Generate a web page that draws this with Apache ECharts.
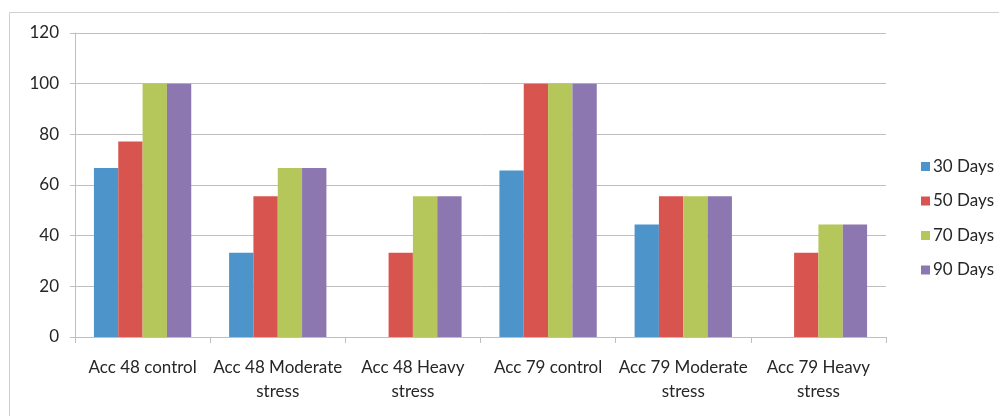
<!DOCTYPE html>
<html>
<head>
<meta charset="utf-8">
<script src="https://cdn.jsdelivr.net/npm/echarts@6/dist/echarts.min.js"></script>
<style>
  html, body { margin: 0; padding: 0; background: #fff; }
  #chart { width: 999px; height: 416px; }
</style>
</head>
<body>
<div id="chart"></div>
<script>
// Germination / survival percentages per accession and stress level
const categories = [
  'Acc 48 control',
  'Acc 48 Moderate\nstress',
  'Acc 48 Heavy\nstress',
  'Acc 79 control',
  'Acc 79 Moderate\nstress',
  'Acc 79 Heavy\nstress'
];
const days30 = [66.7, 33.3, 0, 65.7, 44.4, 0];
const days50 = [77.2, 55.6, 33.3, 100, 55.6, 33.3];
const days70 = [100, 66.7, 55.6, 100, 55.6, 44.4];
const days90 = [100, 66.7, 55.6, 100, 55.6, 44.4];
const seriesNames = ['30 Days', '50 Days', '70 Days', '90 Days'];
const yTicks = [0, 20, 40, 60, 80, 100, 120];

const colors = ['#4D94CB', '#D8554F', '#B5C65A', '#8C77B1'];
const gridColor = '#BFBFBF';
const textColor = '#262626';
const fontFamily = 'Lato, "Open Sans", sans-serif';

const chart = echarts.init(document.getElementById('chart'), null, { renderer: 'canvas' });

const seriesData = [days30, days50, days70, days90];

chart.setOption({
  animation: false,
  backgroundColor: '#fff',
  color: colors,
  graphic: [{
    type: 'rect',
    shape: { x: 9.5, y: 12.5, width: 1200, height: 600 },
    style: { fill: 'none', stroke: '#D0D0D0', lineWidth: 1 },
    silent: true,
    z: -1
  }],
  grid: { left: 75, right: 113, top: 33, bottom: 79, containLabel: false },
  legend: {
    orient: 'vertical',
    left: 916,
    top: 153,
    itemWidth: 9,
    itemHeight: 9,
    itemGap: 17.5,
    icon: 'rect',
    textStyle: { fontFamily, fontSize: 17, lineHeight: 17, color: textColor, padding: [0, 0, 0, -2] },
    data: seriesNames
  },
  xAxis: {
    type: 'category',
    data: categories,
    axisLine: { show: true, lineStyle: { color: gridColor, width: 1 } },
    axisTick: { show: true, length: 6, alignWithLabel: false, lineStyle: { color: gridColor } },
    axisLabel: {
      interval: 0,
      margin: 19,
      fontFamily,
      fontSize: 17,
      lineHeight: 24,
      color: textColor,
      align: 'center'
    },
    splitLine: { show: false }
  },
  yAxis: {
    type: 'value',
    min: 0,
    max: 120,
    interval: 20,
    axisLine: { show: true, lineStyle: { color: gridColor, width: 1 } },
    axisTick: { show: true, length: 5, lineStyle: { color: gridColor } },
    axisLabel: {
      margin: 16,
      fontFamily,
      fontSize: 17,
      color: textColor,
      formatter: v => (yTicks.includes(v) ? String(v) : '')
    },
    splitLine: { show: true, lineStyle: { color: gridColor, width: 1 } }
  },
  series: seriesNames.map((name, i) => ({
    name,
    type: 'bar',
    data: seriesData[i],
    barGap: '0%',
    barCategoryGap: '28%',
    itemStyle: { color: colors[i] }
  }))
});
</script>
</body>
</html>
